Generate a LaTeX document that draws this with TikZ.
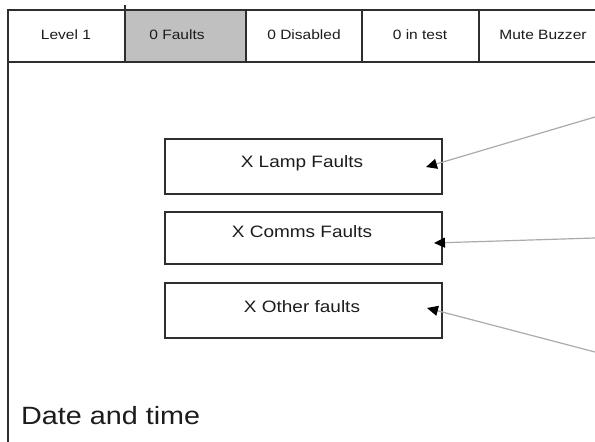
\documentclass[tikz,border=0pt]{standalone}
\usepackage{fontspec}
\setmainfont{Liberation Sans}[FakeStretch=1.15]
\usetikzlibrary{arrows.meta,calc}
\definecolor{framec}{HTML}{2E2E2E}
\definecolor{tabfill}{HTML}{C0C0C0}
\definecolor{linkc}{HTML}{ABABAB}
\definecolor{txt}{HTML}{1C1C1C}
\begin{document}
\begin{tikzpicture}[x=1pt,y=-1pt,
  frame/.style={draw=framec,line width=1.8pt},
  tablabel/.style={anchor=base,text=txt,inner sep=0pt,font=\fontsize{13.5}{14}\selectfont},
  faultbox/.style={draw=framec,line width=2pt,fill=white,inner sep=0pt,
    minimum width=277pt,minimum height=55pt},
  boxlabel/.style={anchor=base,text=txt,inner sep=0pt,font=\fontsize{16.5}{18}\selectfont},
  link/.style={draw=linkc,line width=1.2pt,-{Triangle[length=11pt,width=10pt,color=black]}}]
\useasboundingbox (0,0) rectangle (595,442);
\fill[white] (0,0) rectangle (595,442);

% screen outline and tab bar
\draw[frame] (8,442) -- (8,10) -- (595,10);
\draw[frame] (8,62) -- (595,62);
\filldraw[fill=tabfill,draw=framec,line width=2.4pt] (125,10) rectangle (246,62);
\draw[frame] (125,5) -- (125,10);
\draw[frame] (362,10) -- (362,62);
\draw[frame] (479,10) -- (479,62);

\node[tablabel] (lvl)  at (66,39)  {Level 1};
\node[tablabel] (flt)  at (177,39) {0 Faults};
\node[tablabel] (dis)  at (304,39) {0 Disabled};
\node[tablabel] (tst)  at (420,39) {0 in test};
\node[tablabel] (mute) at (543,39) {Mute Buzzer};

% fault summary boxes
\node[faultbox] (lamp)  at (303.5,166) {};
\node[faultbox,minimum height=52pt] (comms) at (303.5,238) {};
\node[faultbox] (other) at (303.5,310) {};

\node[boxlabel] (lampT)  at (302,167) {X Lamp Faults};
\node[boxlabel] (commsT) at (302,237) {X Comms Faults};
\node[boxlabel] (otherT) at (302,312) {X Other faults};

% incoming links
\coordinate (src1) at (595,117);
\coordinate (src2) at (595,238);
\coordinate (src3) at (595,352);
\coordinate (tip1) at ($(lamp.east)+(-17,1)$);
\coordinate (tip2) at ($(comms.east)+(-9,5)$);
\coordinate (tip3) at ($(other.east)+(-16,-2)$);
\draw[link] (src1) -- (tip1);
\draw[link] (src2) -- (tip2);
\draw[link] (src3) -- (tip3);

\node[anchor=base west,text=txt,inner sep=0pt,font=\fontsize{25}{28}\selectfont] (dt) at (21,424) {Date and time};
\end{tikzpicture}
\end{document}
